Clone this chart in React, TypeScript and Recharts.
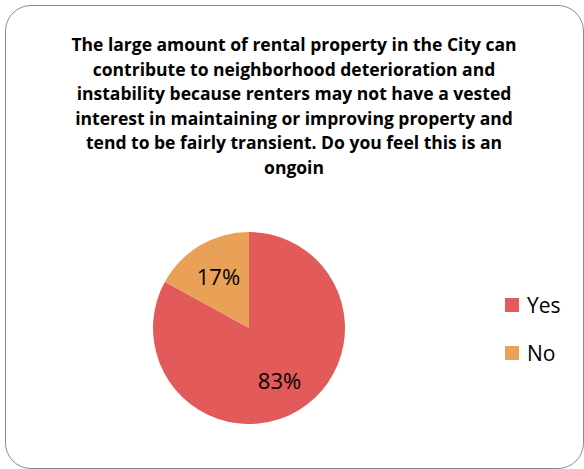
import { PieChart, Pie, Cell, Legend } from "recharts"

const categories = ["Yes", "No"]
const shares = [83, 17]
const colors = ["#E35A5A", "#E9A157"]
const titleLines = [
  "The large amount of rental property in the City can",
  "contribute to neighborhood deterioration and",
  "instability because renters may not have a vested",
  "interest in maintaining or improving property and",
  "tend to be fairly transient. Do you feel this is an",
  "ongoin",
]

const data = categories.map((name, i) => ({ name, value: shares[i] }))

const RAD = Math.PI / 180

function renderLabel(props: any) {
  const { cx, cy, midAngle, percent } = props
  const r = 60
  const x = cx + r * Math.cos(-midAngle * RAD)
  const y = cy + r * Math.sin(-midAngle * RAD)
  return (
    <text
      x={x}
      y={y}
      fill="#000"
      fontSize={22}
      fontFamily="'Open Sans', sans-serif"
      textAnchor="middle"
      dominantBaseline="central"
    >
      {Math.round(percent * 100)}%
    </text>
  )
}

function LegendContent() {
  return (
    <div style={{ fontFamily: "'Open Sans', sans-serif", fontSize: 21 }}>
      {categories.map((c, i) => (
        <div key={c} style={{ display: "flex", alignItems: "center", height: 26, marginBottom: 22 }}>
          <span style={{ width: 14, height: 14, background: colors[i], marginRight: 8, display: "inline-block" }} />
          <span>{c}</span>
        </div>
      ))}
    </div>
  )
}

export default function App() {
  return (
    <div style={{ position: "relative", width: 584, height: 469, background: "#fff" }}>
      <style>{`body{margin:0}`}</style>
      <div
        style={{
          position: "absolute",
          left: 5,
          top: 5,
          width: 577,
          height: 462,
          border: "1.5px solid #8c8c8c",
          borderRadius: 26,
        }}
      />
      <div
        style={{
          position: "absolute",
          left: 0,
          top: 32,
          width: 588,
          textAlign: "center",
          fontFamily: "'Open Sans', sans-serif",
          fontWeight: 700,
          fontSize: 17.5,
          lineHeight: "24.5px",
          color: "#000",
          whiteSpace: "nowrap",
        }}
      >
        {titleLines.map((l) => (
          <div key={l}>{l}</div>
        ))}
      </div>
      <PieChart width={584} height={469} style={{ position: "absolute", left: 0, top: 0 }}>
        <Pie
          data={data}
          dataKey="value"
          nameKey="name"
          cx={244}
          cy={323}
          outerRadius={96}
          startAngle={90}
          endAngle={-270}
          stroke="none"
          label={renderLabel}
          labelLine={false}
          isAnimationActive={false}
        >
          {data.map((d, i) => (
            <Cell key={d.name} fill={colors[i]} />
          ))}
        </Pie>
        <Legend
          layout="vertical"
          content={<LegendContent />}
          wrapperStyle={{ position: "absolute", left: 505, top: 292, width: 80 }}
        />
      </PieChart>
    </div>
  )
}
